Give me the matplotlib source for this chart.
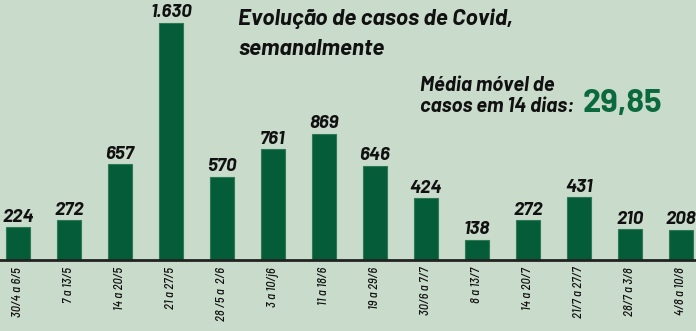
import matplotlib
matplotlib.use("Agg")
import matplotlib.pyplot as plt
from matplotlib import font_manager

categories = ["30/4 a 6/5", "7 a 13/5", "14 a 20/5", "21 a 27/5", "28 /5 a  2/6",
              "3 a 10/j6", "11 a 18/6", "19 a 29/6", "30/6 a 7/7", "8 a 13/7",
              "14 a 20/7", "21/7 a 27/7", "28/7 a 3/8", "4/8 a 10/8"]
values = [224, 272, 657, 1630, 570, 761, 869, 646, 424, 138, 272, 431, 210, 208]
value_labels = ["224", "272", "657", "1.630", "570", "761", "869", "646", "424",
                "138", "272", "431", "210", "208"]
title_lines = ["Evolução de casos de Covid,", "semanalmente"]
avg_label = ["Média móvel de", "casos em 14 dias:"]
avg_value = "29,85"

names = {f.name for f in font_manager.fontManager.ttflist}


def pick(prefs):
    for p in prefs:
        if p in names:
            return [p, "DejaVu Sans"]
    return ["DejaVu Sans"]


FAM = pick(["Barlow", "Barlow Semi Condensed", "Roboto Condensed"])
FAMT = pick(["Barlow Semi Condensed", "Barlow", "Roboto Condensed"])

BG = "#c9dbcb"
BAR = "#045c38"
EDGE = "#2e7a55"
INK = "#111111"

W, H = 696, 331
fig = plt.figure(figsize=(W / 100, H / 100), dpi=100, facecolor=BG)
base_px = 260
ax = fig.add_axes([0, (H - base_px) / H, 1, base_px / H])
ax.set_facecolor(BG)
ax.patch.set_alpha(0)

x = list(range(len(values)))
ax.bar(x, values, width=0.47, color=BAR, edgecolor=EDGE, linewidth=0.8, zorder=2)

a = -18 / 51
ax.set_xlim(a, a + W / 51)
ax.set_ylim(0, 1630 * base_px / 237)

for xi, v, lab in zip(x, values, value_labels):
    ax.text(xi, v + 12, lab, ha="center", va="bottom", fontsize=13.6,
            fontweight="bold", fontstyle="italic", family=FAM, color=INK)

for s in ["top", "right", "left"]:
    ax.spines[s].set_visible(False)
ax.spines["bottom"].set_linewidth(2)
ax.spines["bottom"].set_color("#222222")
ax.set_yticks([])
ax.set_xticks(x)
ax.set_xticklabels(categories, rotation=90, fontsize=9, fontstyle="italic",
                   fontweight="medium", family=FAMT, color=INK)
ax.tick_params(axis="x", length=0, pad=5)

fig.text(238 / W, 1 - 25 / H, title_lines[0], fontsize=16.3, fontweight="bold",
         fontstyle="italic", family=FAM, color=INK, va="baseline", ha="left")
fig.text(238 / W, 1 - 55 / H, title_lines[1], fontsize=16.3, fontweight="bold",
         fontstyle="italic", family=FAM, color=INK, va="baseline", ha="left")
fig.text(420 / W, 1 - 91 / H, avg_label[0], fontsize=14.6, fontweight="bold",
         fontstyle="italic", family=FAM, color=INK, va="baseline", ha="left")
fig.text(420 / W, 1 - 112 / H, avg_label[1], fontsize=14.6, fontweight="bold",
         fontstyle="italic", family=FAM, color=INK, va="baseline", ha="left")
fig.text(583 / W, 1 - 112 / H, avg_value, fontsize=23.5, fontweight="bold",
         family=FAM, color="#0b6a3d", va="baseline", ha="left")

fig.savefig("out.png", dpi=100, facecolor=BG)
